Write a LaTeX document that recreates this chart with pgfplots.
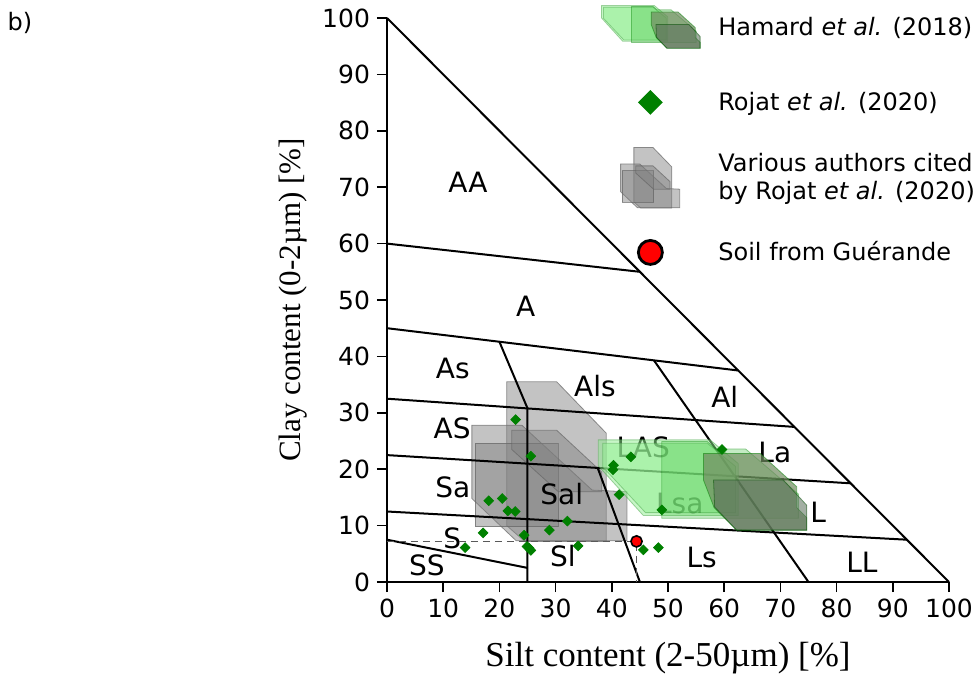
\documentclass[border=0pt]{standalone}
\usepackage{fontspec}
\setmainfont{DejaVu Sans}
\newfontfamily\timesf{Liberation Serif}
\usepackage{pgfplots}
\pgfplotsset{compat=1.18}
\definecolor{mygreen}{RGB}{0,128,0}
\definecolor{lgreen}{RGB}{144,238,144}
\definecolor{medgreen}{RGB}{60,190,60}
\definecolor{olivegr}{RGB}{112,140,96}
\definecolor{darkgr}{RGB}{88,110,88}
\tikzset{
  graypoly/.style={fill=gray, fill opacity=0.47, draw=gray!80!black, draw opacity=0.7, line width=0.4pt},
  g1poly/.style={fill=lgreen, fill opacity=0.5, draw=mygreen!70, draw opacity=0.5, line width=0.4pt},
  g2poly/.style={fill=medgreen, fill opacity=0.3, draw=mygreen, draw opacity=0.4, line width=0.4pt},
  g3poly/.style={fill=olivegr, fill opacity=0.7, draw=mygreen, draw opacity=0.5, line width=0.4pt},
  g4poly/.style={fill=darkgr, fill opacity=0.55, draw=mygreen!60!black, draw opacity=0.5, line width=0.4pt},
  tri/.style={black, line width=1pt},
  lab/.style={font=\fontsize{14}{16}\selectfont, inner sep=0pt},
}
\begin{document}
\begin{tikzpicture}
\begin{axis}[
  at={(0,0)}, anchor=south west,
  scale only axis, width=281pt, height=282pt,
  xmin=0, xmax=100, ymin=0, ymax=100,
  axis x line=bottom, axis y line=left,
  axis line style={-, line width=0.8pt, black},
  x axis line style={-}, y axis line style={-},
  xtick={0,10,...,100}, ytick={0,10,...,100},
  tick align=outside, major tick length=5pt,
  tick style={line width=0.8pt, black},
  /pgf/number format/assume math mode=true,
  ticklabel style={font=\fontsize{12.5}{14}\selectfont},
  xlabel={\timesf Silt content (2-50µm) [\%]},
  ylabel={\timesf Clay content (0-2µm) [\%]},
  xlabel style={font=\fontsize{17.5}{20}\selectfont, at={(axis description cs:0.5,-0.135)}, anchor=center},
  ylabel style={font=\fontsize{15.5}{18}\selectfont, at={(axis description cs:-0.167,0.5)}, anchor=center},
  clip=false,
  legend style={draw=none, fill=none, inner sep=0pt, row sep=0pt, column sep=0pt,
    at={(axis description cs:0.3754,1.0505)}, anchor=north west,
    font=\fontsize{12}{14}\selectfont, nodes={inner sep=0pt, align=left}},
  legend cell align=left,
]
% various authors (gray)
\addplot[graypoly, forget plot] coordinates {(21.3,35.5) (30.2,35.5) (39.0,26.4) (39.0,7.2) (24.5,7.2) (21.3,10.0)} -- cycle;
\addplot[graypoly, forget plot] coordinates {(15.1,27.8) (24.0,27.8) (36.5,16.3) (42.7,16.0) (42.7,7.3) (23.0,7.3) (15.1,14.8)} -- cycle;
\addplot[graypoly, forget plot] coordinates {(15.7,24.6) (30.5,24.6) (30.5,9.8) (15.7,9.8)} -- cycle;
\addplot[graypoly, forget plot] coordinates {(22.2,26.9) (30.2,26.9) (38.2,19.5) (38.2,16.0) (30.5,16.0) (22.2,23.5)} -- cycle;
% triangle lines
\addplot[tri, forget plot] coordinates {(0,100) (100,0)};
\addplot[tri, forget plot] coordinates {(0,60) (45,55)};
\addplot[tri, forget plot] coordinates {(0,45) (62.5,37.5)};
\addplot[tri, forget plot] coordinates {(0,32.5) (72.5,27.5)};
\addplot[tri, forget plot] coordinates {(0,22.5) (82.5,17.5)};
\addplot[tri, forget plot] coordinates {(0,12.5) (92.5,7.5)};
\addplot[tri, forget plot] coordinates {(0,7.5) (25,2.5)};
\addplot[tri, forget plot] coordinates {(25,0) (25,30.8) (20,42.6)};
\addplot[tri, forget plot] coordinates {(45,0) (37.5,20.2)};
\addplot[tri, forget plot] coordinates {(75,0) (47.5,39.3)};
% class labels
\node[lab] at (axis cs:14.4,70.9) {AA};
\node[lab] at (axis cs:24.7,48.9) {A};
\node[lab] at (axis cs:11.7,37.9) {As};
\node[lab] at (axis cs:37.0,34.8) {Als};
\node[lab] at (axis cs:60.1,32.8) {Al};
\node[lab] at (axis cs:11.6,27.3) {AS};
\node[lab] at (axis cs:45.6,23.9) {LAS};
\node[lab] at (axis cs:69.0,23.0) {La};
\node[lab] at (axis cs:11.7,16.8) {Sa};
\node[lab] at (axis cs:31.1,15.6) {Sal};
\node[lab] at (axis cs:52.1,14.0) {Lsa};
\node[lab] at (axis cs:76.7,12.4) {L};
\node[lab] at (axis cs:11.6,7.8) {S};
\node[lab] at (axis cs:31.3,4.6) {Sl};
\node[lab] at (axis cs:56.0,4.4) {Ls};
\node[lab] at (axis cs:84.5,3.5) {LL};
\node[lab] at (axis cs:7.1,3.0) {SS};
% Rojat et al. 2020
\addplot[only marks, mark=square*, mark size=1.7pt, mark options={rotate=45, fill=mygreen, draw=mygreen}, forget plot] coordinates {
(22.9,28.8) (25.6,22.3) (18.1,14.4) (20.5,14.8) (21.5,12.6) (22.8,12.5) (32.1,10.8) (28.9,9.2)
(17.1,8.7) (24.4,8.3) (13.9,6.1) (24.9,6.3) (25.3,6.0) (25.6,5.6) (34.0,6.4) (41.3,15.5)
(40.3,20.7) (40.2,19.9) (43.4,22.2) (45.6,5.7) (48.3,6.1) (48.9,12.8) (59.6,23.5)};
% Hamard et al. 2018
\addplot[g1poly, forget plot] coordinates {(37.6,25.2) (57.5,25.2) (62.5,21.0) (62.5,11.8) (45.6,11.8) (37.6,20.6)} -- cycle;
\addplot[g1poly, forget plot] coordinates {(38.4,24.6) (57.0,24.6) (62.0,20.5) (62.0,12.3) (46.0,12.3) (38.4,20.4)} -- cycle;
\addplot[g2poly, forget plot] coordinates {(48.9,24.9) (57.0,24.9) (58.5,23.6) (63.8,23.6) (73.2,15.6) (73.2,11.3) (48.9,11.3)} -- cycle;
\addplot[g3poly, forget plot] coordinates {(56.3,22.8) (66.4,22.8) (72.9,16.9) (72.9,13.2) (74.7,11.4) (74.7,9.2) (62.2,9.2) (58.2,13.2) (56.3,18.1)} -- cycle;
\addplot[g4poly, forget plot] coordinates {(58.1,18.1) (70.5,18.1) (74.7,13.6) (74.7,9.2) (62.2,9.2) (58.3,13.3)} -- cycle;
% Guerande soil
\addplot[dashed, dash pattern=on 3.5pt off 2.5pt, gray!70!black, line width=0.6pt, forget plot] coordinates {(0,7.2) (44.4,7.2) (44.4,0)};
\addplot[only marks, mark=*, mark size=2.8pt, mark options={fill=red, draw=black, line width=0.8pt}, forget plot] coordinates {(44.4,7.2)};
\node[font=\fontsize{12}{14}\selectfont] at (axis description cs:-0.653,0.991) {b)};
% legend
\addlegendimage{legend image code/.code={%
  \path[draw=none, fill=none] (-26pt,-18.75pt) rectangle (34pt,18.75pt);
  \begin{scope}[x=1.33pt,y=1.33pt,shift={(-56,-17)}]
  \filldraw[g1poly] (37.6,25.2) -- (57.5,25.2) -- (62.5,21.0) -- (62.5,11.8) -- (45.6,11.8) -- (37.6,20.6) -- cycle;
  \filldraw[g1poly] (38.4,24.6) -- (57.0,24.6) -- (62.0,20.5) -- (62.0,12.3) -- (46.0,12.3) -- (38.4,20.4) -- cycle;
  \filldraw[g2poly] (48.9,24.9) -- (57.0,24.9) -- (58.5,23.6) -- (63.8,23.6) -- (73.2,15.6) -- (73.2,11.3) -- (48.9,11.3) -- cycle;
  \filldraw[g3poly] (56.3,22.8) -- (66.4,22.8) -- (72.9,16.9) -- (72.9,13.2) -- (74.7,11.4) -- (74.7,9.2) -- (62.2,9.2) -- (58.2,13.2) -- (56.3,18.1) -- cycle;
  \filldraw[g4poly] (58.1,18.1) -- (70.5,18.1) -- (74.7,13.6) -- (74.7,9.2) -- (62.2,9.2) -- (58.3,13.3) -- cycle;
  \end{scope}}}
\addlegendentry{Hamard \textit{et al.} (2018)}
\addlegendimage{legend image code/.code={%
  \path[draw=none, fill=none] (-26pt,-18.75pt) rectangle (34pt,18.75pt);
  \fill[mygreen, draw=none] (0,6.2pt) -- (6.2pt,0) -- (0,-6.2pt) -- (-6.2pt,0) -- cycle;}}
\addlegendentry{Rojat \textit{et al.} (2020)}
\addlegendimage{legend image code/.code={%
  \path[draw=none, fill=none] (-26pt,-18.75pt) rectangle (34pt,18.75pt);
  \begin{scope}[x=1.07pt,y=1.07pt,shift={(-29,-21.5)}]
  \filldraw[graypoly] (21.3,35.5) -- (30.2,35.5) -- (39.0,26.4) -- (39.0,7.2) -- (24.5,7.2) -- (21.3,10.0) -- cycle;
  \filldraw[graypoly] (15.1,27.8) -- (24.0,27.8) -- (36.5,16.3) -- (42.7,16.0) -- (42.7,7.3) -- (23.0,7.3) -- (15.1,14.8) -- cycle;
  \filldraw[graypoly] (15.7,24.6) -- (30.5,24.6) -- (30.5,9.8) -- (15.7,9.8) -- cycle;
  \filldraw[graypoly] (22.2,26.9) -- (30.2,26.9) -- (38.2,19.5) -- (38.2,16.0) -- (30.5,16.0) -- (22.2,23.5) -- cycle;
  \end{scope}}}
\addlegendentry{Various authors cited\\by Rojat \textit{et al.} (2020)}
\addlegendimage{legend image code/.code={%
  \path[draw=none, fill=none] (-26pt,-18.75pt) rectangle (34pt,18.75pt);
  \filldraw[fill=red, draw=black, line width=1.4pt] (0,0) circle (6pt);}}
\addlegendentry{Soil from Guérande}
\end{axis}
\pgfresetboundingbox
\path[use as bounding box] (-193.5pt,-46.5pt) rectangle (295.5pt,291pt);
\end{tikzpicture}
\end{document}
